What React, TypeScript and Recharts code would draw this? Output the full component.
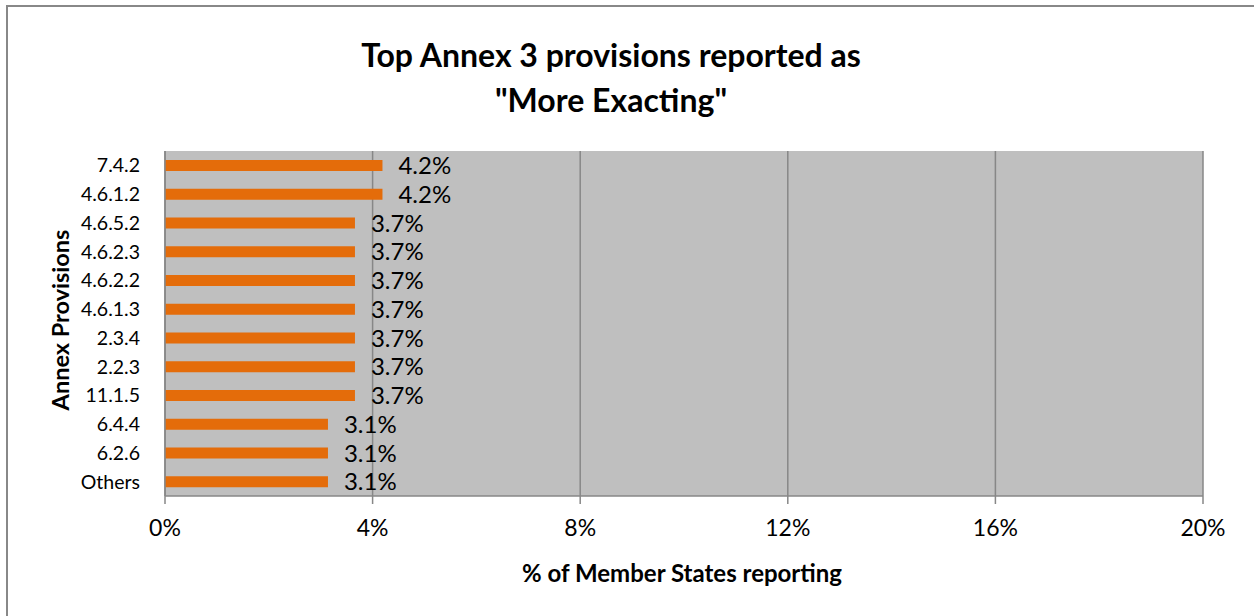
import React from "react";
import { BarChart, Bar, XAxis, YAxis, CartesianGrid, LabelList } from "recharts";

const categories = ["7.4.2", "4.6.1.2", "4.6.5.2", "4.6.2.3", "4.6.2.2", "4.6.1.3", "2.3.4", "2.2.3", "11.1.5", "6.4.4", "6.2.6", "Others"];
const values = [4.19, 4.19, 3.66, 3.66, 3.66, 3.66, 3.66, 3.66, 3.66, 3.14, 3.14, 3.14];
const xTicks = [0, 4, 8, 12, 16, 20];
const titleLines = ["Top Annex 3 provisions reported as", "\"More Exacting\""];
const xTitle = "% of Member States reporting";
const yTitle = "Annex Provisions";

const data = categories.map((name, i) => ({ name, value: values[i] }));

const FONT = "Lato, 'Open Sans', sans-serif";

export default function App() {
  return (
    <div style={{ position: "absolute", left: 0, top: 0, width: 1254, height: 616, overflow: "hidden", background: "#fff", fontFamily: FONT }}>
      <div style={{ position: "absolute", left: 6, top: 5, width: 1270, height: 640, border: "2px solid #888888", boxSizing: "border-box" }} />
      <BarChart
        width={1254}
        height={616}
        data={data}
        layout="vertical"
        margin={{ top: 151, right: 51, left: 25, bottom: 60 }}
        barCategoryGap={0}
      >
        <CartesianGrid horizontal={false} vertical={true} fill="#bfbfbf" stroke="#878787" strokeWidth={1.5} />
        <XAxis
          type="number"
          domain={[0, 20]}
          ticks={xTicks}
          interval={0}
          tickFormatter={(v: number) => `${v}%`}
          height={60}
          tickSize={8}
          tickMargin={16}
          axisLine={{ stroke: "#878787", strokeWidth: 1.5 }}
          tickLine={{ stroke: "#878787", strokeWidth: 1.5 }}
          tick={{ fill: "#000", fontSize: 23, fontFamily: FONT }}
        />
        <YAxis
          type="category"
          dataKey="name"
          width={140}
          tickSize={0}
          tickMargin={25}
          interval={0}
          axisLine={{ stroke: "#878787", strokeWidth: 1.5 }}
          tickLine={false}
          tick={{ fill: "#000", fontSize: 19.5, fontFamily: FONT }}
        />
        <Bar dataKey="value" fill="#e46c0a" barSize={11} isAnimationActive={false}>
          <LabelList
            dataKey="value"
            position="right"
            offset={16}
            formatter={(v: any) => `${Number(v).toFixed(1)}%`}
            style={{ fill: "#000", fontSize: 24, fontFamily: FONT }}
          />
        </Bar>
      </BarChart>
      {titleLines.map((t, i) => (
        <div
          key={i}
          style={{
            position: "absolute",
            left: 611,
            top: 36 + i * 45,
            transform: "translateX(-50%)",
            whiteSpace: "nowrap",
            fontWeight: 700,
            fontSize: 32,
            lineHeight: "38px",
            color: "#000",
          }}
        >
          {t}
        </div>
      ))}
      <div
        style={{
          position: "absolute",
          left: 682,
          top: 559,
          transform: "translateX(-50%)",
          whiteSpace: "nowrap",
          fontWeight: 700,
          fontSize: 24,
          lineHeight: "28px",
          color: "#000",
        }}
      >
        {xTitle}
      </div>
      <div
        style={{
          position: "absolute",
          left: 60,
          top: 320,
          transform: "translate(-50%, -50%) rotate(-90deg)",
          whiteSpace: "nowrap",
          fontWeight: 700,
          fontSize: 23.5,
          lineHeight: "28px",
          color: "#000",
        }}
      >
        {yTitle}
      </div>
    </div>
  );
}
